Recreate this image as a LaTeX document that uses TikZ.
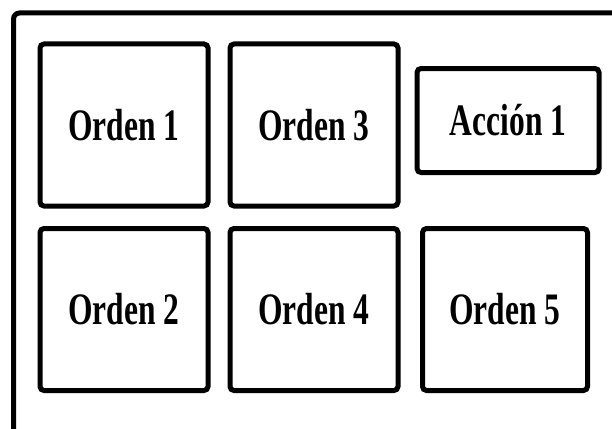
\documentclass[tikz,border=0pt]{standalone}
\usepackage{fontspec}
\newfontfamily\boxfont[FakeStretch=0.7]{Liberation Serif}
\usepackage{tikz}
\usetikzlibrary{positioning}

\begin{document}
\begin{tikzpicture}[
        x=1pt, y=-1pt,
        frame/.style={line width=5pt, rounded corners=6pt},
        orden/.style={rectangle, draw=black, line width=5pt, rounded corners=4pt, minimum width=168pt, minimum height=162pt, inner sep=0pt, align=center, font=\boxfont\bfseries\fontsize{45}{50}\selectfont},
        accion/.style={orden, minimum width=182pt, minimum height=104pt},
    ]
    \useasboundingbox (0,0) rectangle (612,428);

    % marco exterior, abierto a la derecha y abajo
    \coordinate (fb) at (13.5,445);
    \coordinate (fr) at (630,13);
    \draw[frame] (fb) |- (fr);

    % primera fila
    \node[orden] (o1) at (124,125) {Orden 1};
    \node[orden] (o3) at (314,125) {Orden 3};
    \node[accion] (a1) at (508,120.5) {Acción 1};

    % segunda fila
    \node[orden] (o2) at (124,309.5) {Orden 2};
    \node[orden] (o4) at (314,309.5) {Orden 4};
    \node[orden, minimum width=165pt] (o5) at (505,309.5) {Orden 5};
\end{tikzpicture}
\end{document}
